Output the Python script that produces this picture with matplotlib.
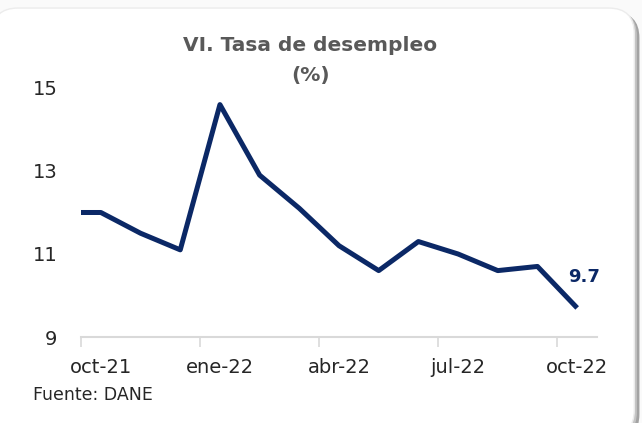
import matplotlib
matplotlib.use("Agg")
import matplotlib.pyplot as plt
from matplotlib.patches import FancyBboxPatch

# ---- data (monthly unemployment rate, %) ----
months = ["sep-21", "oct-21", "nov-21", "dic-21", "ene-22", "feb-22", "mar-22",
          "abr-22", "may-22", "jun-22", "jul-22", "ago-22", "sep-22", "oct-22"]
rate = [12.0, 12.0, 11.5, 11.1, 14.6, 12.9, 12.1,
        11.2, 10.6, 11.3, 11.0, 10.6, 10.7, 9.7]
tick_labels = ["oct-21", "ene-22", "abr-22", "jul-22", "oct-22"]
y_ticks = [9, 11, 13, 15]

NAVY = "#0B2866"
GRAY_TXT = "#595959"
AXIS_GRAY = "#D9D9D9"

plt.rcParams["font.family"] = ["DejaVu Sans"]

W, H = 6.42, 4.23
fig = plt.figure(figsize=(W, H), dpi=100)
fig.patch.set_facecolor("#FAFAFA")

# card background with soft shadow (kept behind the axes)
asp = W / H
for dx, dy, col, a in [(0.008, -0.010, "#9A9A9A", 0.9),
                       (0.004, -0.005, "#C8C8C8", 0.9)]:
    fig.patches.append(FancyBboxPatch(
        (-0.012 + dx, -0.03 + dy), 1.0, 1.011,
        boxstyle="round,pad=0,rounding_size=0.04", mutation_aspect=asp,
        transform=fig.transFigure, facecolor=col, edgecolor="none",
        alpha=a, zorder=-3))
card = FancyBboxPatch((-0.012, -0.03), 1.0, 1.011,
                      boxstyle="round,pad=0,rounding_size=0.04",
                      mutation_aspect=asp, transform=fig.transFigure,
                      facecolor="white", edgecolor="#ECECEC", linewidth=1.0,
                      zorder=-1)
fig.patches.append(card)

ax = fig.add_axes([0.1262, 0.2033, 0.8037, 0.5887])
ax.set_facecolor("none")

# positions: oct-21 is category 0, sep-21 sits before the axis start and is clipped
x = list(range(-1, len(months) - 1))
ax.plot(x, rate, color=NAVY, linewidth=3.6, solid_joinstyle="round",
        solid_capstyle="butt")

ax.set_xlim(-0.5, len(months) - 1.5)
ax.set_ylim(9, 15)

label_pos = [months.index(m) - 1 for m in tick_labels]
ax.set_xticks(label_pos)
ax.set_xticklabels(tick_labels, fontsize=14, color="#262626")
ax.tick_params(axis="x", length=0, pad=15)
ax.set_xticks([p - 0.5 for p in label_pos], minor=True)
ax.tick_params(axis="x", which="minor", length=7, width=1.2, color=AXIS_GRAY)

ax.set_yticks(y_ticks)
ax.set_yticklabels([str(v) for v in y_ticks], fontsize=14, color="#262626")
ax.tick_params(axis="y", length=0, pad=17)

for side in ["top", "right", "left"]:
    ax.spines[side].set_visible(False)
ax.spines["bottom"].set_color(AXIS_GRAY)
ax.spines["bottom"].set_linewidth(1.5)

# last value label
ax.annotate(f"{rate[-1]}", xy=(x[-1], rate[-1]),
            xytext=(5, 22), textcoords="offset points", ha="center",
            va="center", fontsize=13, fontweight="bold", color=NAVY)

fig.text(0.483, 0.893, "VI. Tasa de desempleo", ha="center", va="center",
         fontsize=14.5, fontweight="bold", color=GRAY_TXT)
fig.text(0.483, 0.822, "(%)", ha="center", va="center",
         fontsize=14.5, fontweight="bold", color=GRAY_TXT)
fig.text(0.052, 0.066, "Fuente: DANE", ha="left", va="center",
         fontsize=12.5, color="#262626")

fig.savefig("out.png", dpi=100)
